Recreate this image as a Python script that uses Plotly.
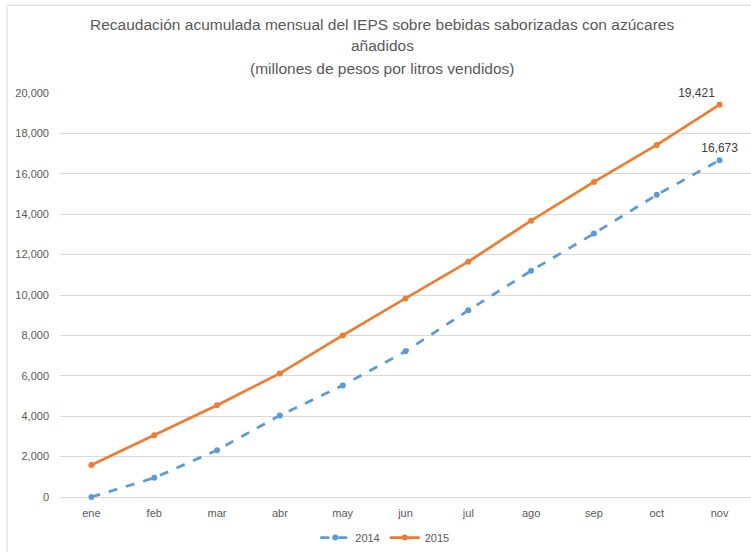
import plotly.graph_objects as go

months = ["ene", "feb", "mar", "abr", "may", "jun", "jul", "ago", "sep", "oct", "nov"]
y2014 = [0, 950, 2320, 4040, 5520, 7210, 9240, 11200, 13040, 14960, 16673]
y2015 = [1580, 3060, 4540, 6120, 8000, 9830, 11650, 13680, 15600, 17430, 19421]
ytick_vals = list(range(0, 20001, 2000))
ytick_text = [f"{v:,}" for v in ytick_vals]
title_lines = [
    "Recaudación acumulada mensual del IEPS sobre bebidas saborizadas con azúcares",
    "añadidos",
    "(millones de pesos por litros vendidos)",
]

gray = "#595959"
font_main = "Liberation Sans, Arial, sans-serif"

lbl2014 = [""] * (len(months) - 1) + [f"{y2014[-1]:,}"]
lbl2015 = [""] * (len(months) - 1) + [f"{y2015[-1]:,}"]

fig = go.Figure()
fig.add_trace(go.Scatter(
    x=months, y=y2014, name="2014", mode="lines+markers+text",
    line=dict(color="#5B9BD5", width=2.75, dash="dash"),
    marker=dict(size=6, color="#5B9BD5"),
    text=lbl2014, textposition="top center", cliponaxis=False,
    textfont=dict(family=font_main, size=12, color="#404040"),
))
fig.add_trace(go.Scatter(
    x=months, y=y2015, name="2015", mode="lines+markers+text",
    line=dict(color="#ED7D31", width=2.75),
    marker=dict(size=6, color="#ED7D31"),
    text=lbl2015, textposition="top left", cliponaxis=False,
    textfont=dict(family=font_main, size=12, color="#404040"),
))

title_y = [1.170, 1.1185, 1.0617]
annotations = [
    dict(text=t, x=0.4667, xref="paper", xanchor="center",
         y=yy, yref="paper", yanchor="middle", showarrow=False,
         font=dict(family=font_main, size=15.5, color=gray))
    for t, yy in zip(title_lines, title_y)
]

fig.update_layout(
    width=751, height=552,
    margin=dict(l=60, r=0, t=93, b=54),
    paper_bgcolor="white", plot_bgcolor="white",
    font=dict(family=font_main, color=gray, size=11),
    annotations=annotations,
    xaxis=dict(
        type="category", range=[-0.5, 10.5], showgrid=False,
        showline=False, ticks="", tickfont=dict(size=11, color=gray),
        ticklabelstandoff=8,
    ),
    yaxis=dict(
        range=[0, 20000], tickvals=ytick_vals, ticktext=ytick_text,
        showgrid=True, gridcolor="#d9d9d9", gridwidth=1,
        zeroline=True, zerolinecolor="#d9d9d9", zerolinewidth=1,
        ticks="", tickfont=dict(size=11, color=gray), ticklabelstandoff=10,
    ),
    legend=dict(
        orientation="h", x=0.47, xanchor="center", y=-0.1, yanchor="middle",
        font=dict(size=11, color=gray),
    ),
    showlegend=True,
    shapes=[dict(
        type="rect", xref="paper", yref="paper",
        x0=-0.0767, x1=1.2, y0=-0.5, y1=1.217,
        line=dict(color="#d9d9d9", width=1), layer="below",
    )],
)

fig.write_html(
    "out.html",
    config={"displayModeBar": False},
    post_script="document.body.style.margin='0';document.body.style.overflow='hidden';",
)
